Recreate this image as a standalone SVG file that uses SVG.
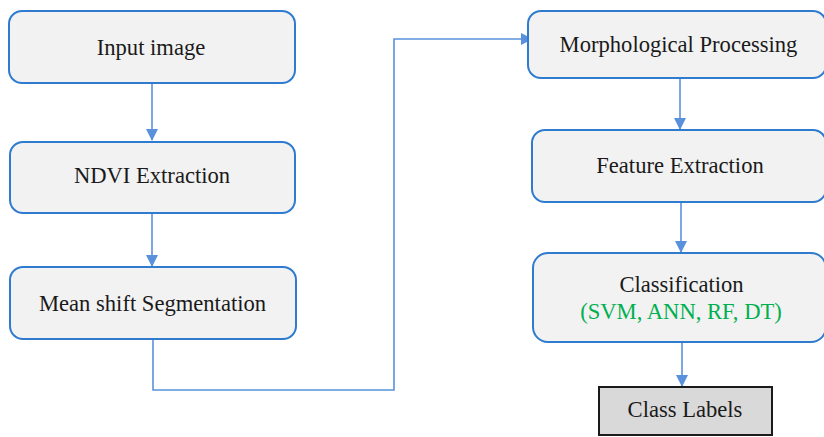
<svg xmlns="http://www.w3.org/2000/svg" width="824" height="437" viewBox="0 0 824 437">
<style>
.box{fill:#f2f2f2;stroke:#2e7bcf;stroke-width:2}
.lab{fill:#d9d9d9;stroke:#1a1a1a;stroke-width:2}
.t{font-family:'Liberation Serif','Times New Roman','DejaVu Serif',serif;font-size:22.6px;fill:#1a1a1a;text-anchor:middle}
.g{fill:#00b050}
.c{fill:none;stroke:#5a91dc;stroke-width:1.6}
</style>
<defs>
<marker id="ah" markerUnits="userSpaceOnUse" markerWidth="12" markerHeight="12" viewBox="0 0 12 12" refX="11" refY="6" orient="auto">
<path d="M0,0 L12,6 L0,12 Z" fill="#5a91dc"/>
</marker>
</defs>
<rect width="824" height="437" fill="#ffffff"/>
<g id="connectors">
<line class="c" x1="152" y1="83" x2="152" y2="140" marker-end="url(#ah)"/>
<line class="c" x1="152" y1="213" x2="152" y2="266" marker-end="url(#ah)"/>
<polyline class="c" points="153,339 153,390 394,390 394,39 532,39" marker-end="url(#ah)"/>
<line class="c" x1="680" y1="78" x2="680" y2="129" marker-end="url(#ah)"/>
<line class="c" x1="681" y1="202" x2="681" y2="252" marker-end="url(#ah)"/>
<line class="c" x1="682" y1="342" x2="682" y2="386" marker-end="url(#ah)"/>
</g>
<g id="input-image">
<rect class="box" x="9" y="11" width="286" height="72" rx="13"/>
<text class="t" x="151" y="55">Input image</text>
</g>
<g id="ndvi-extraction">
<rect class="box" x="10" y="142" width="285" height="71" rx="13"/>
<text class="t" x="152" y="183">NDVI Extraction</text>
</g>
<g id="mean-shift">
<rect class="box" x="10" y="267" width="286" height="72" rx="13"/>
<text class="t" x="152.5" y="311">Mean shift Segmentation</text>
</g>
<g id="morphological">
<rect class="box" x="528" y="11" width="298" height="67" rx="13"/>
<text class="t" x="678.5" y="52">Morphological Processing</text>
</g>
<g id="feature-extraction">
<rect class="box" x="532" y="130" width="294" height="72" rx="13"/>
<text class="t" x="680" y="173">Feature Extraction</text>
</g>
<g id="classification">
<rect class="box" x="533" y="253" width="293" height="89" rx="15"/>
<text class="t" x="681.5" y="292">Classification</text>
<text class="t g" x="681" y="319">(SVM, ANN, RF, DT)</text>
</g>
<g id="class-labels">
<rect class="lab" x="599" y="387" width="173" height="48"/>
<text class="t" x="685" y="417">Class Labels</text>
</g>
</svg>
